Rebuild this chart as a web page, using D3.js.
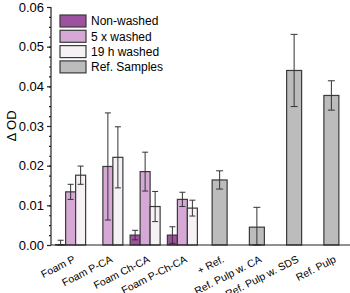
<!DOCTYPE html>
<html>
<head>
<meta charset="utf-8">
<script src="https://cdn.jsdelivr.net/npm/d3@7"></script>
<style>
  body { margin: 0; background: #fff; }
  text { font-family: "Liberation Sans", Arial, sans-serif; fill: #000; }
</style>
</head>
<body>
<svg id="chart" width="350" height="293"></svg>
<script>
// categories along the x axis
categories = ["Foam P", "Foam P-CA", "Foam Ch-CA", "Foam P-Ch-CA",
  "+ Ref.", "Ref. Pulp w. CA", "Ref. Pulp w. SDS", "Ref. Pulp"]
foamCats = categories.slice(0, 4)
refCats = categories.slice(4)

// foam samples (null = no bar)
nonWashed = [0.0001, null, 0.0025, 0.0025]
nonWashedErr = [0.0011, null, 0.0012, 0.0021]
washed5 = [0.0134, 0.0198, 0.0185, 0.0115]
washed5Err = [0.0019, 0.0135, 0.0049, 0.0018]
washed19 = [0.0176, 0.0221, 0.0097, 0.0093]
washed19Err = [0.0023, 0.0077, 0.0038, 0.0020]

// reference samples
refVals = [0.0164, 0.0045, 0.0440, 0.0377]
refErr = [0.0023, 0.0050, 0.0091, 0.0037]

yTicks = [0, 0.01, 0.02, 0.03, 0.04, 0.05, 0.06]
legendLabels = ["Non-washed", "5 x washed", "19 h washed", "Ref. Samples"]
colors = ["#9d529f", "#d5a8d5", "#f6f1f5", "#bcbcbc"]
edge = "#3a3a3a"

const svg = d3.select("#chart")
const margin = {top: 7, right: 0, bottom: 48, left: 51}
const width = +svg.attr("width")
const height = +svg.attr("height")

x = d3.scaleBand()
  .domain(categories)
  .range([margin.left + 1, width - margin.right])

y = d3.scaleLinear()
  .domain([0, 0.06])
  .range([height - margin.bottom, margin.top])

barW = 10
refW = 15

function drawSeries(vals, errs, offset, color, w, cats) {
  const rows = cats.map((c, i) => ({cat: c, v: vals[i], e: errs[i]}))
    .filter(d => d.v != null)
  const cx = d => x(d.cat) + x.bandwidth() / 2 + offset
  svg.append("g").selectAll("rect")
    .data(rows).enter().append("rect")
    .attr("x", d => cx(d) - w / 2)
    .attr("width", w)
    .attr("y", d => y(d.v))
    .attr("height", d => y(0) - y(d.v))
    .attr("fill", color)
    .attr("stroke", edge)
    .attr("stroke-width", 1.2)
  const eb = svg.append("g").attr("stroke", "#333").attr("stroke-width", 1)
  const cap = w > 12 ? 3.5 : 3
  rows.forEach(d => {
    const top = y(d.v + d.e)
    const bot = y(Math.max(0, d.v - d.e))
    eb.append("line").attr("x1", cx(d)).attr("x2", cx(d)).attr("y1", top).attr("y2", bot)
    eb.append("line").attr("x1", cx(d) - cap).attr("x2", cx(d) + cap).attr("y1", top).attr("y2", top)
    eb.append("line").attr("x1", cx(d) - cap).attr("x2", cx(d) + cap).attr("y1", bot).attr("y2", bot)
  })
}

drawSeries(nonWashed, nonWashedErr, -barW, colors[0], barW, foamCats)
drawSeries(washed5, washed5Err, 0, colors[1], barW, foamCats)
drawSeries(washed19, washed19Err, barW, colors[2], barW, foamCats)
drawSeries(refVals, refErr, 0, colors[3], refW, refCats)

// y axis with minor ticks
const yAxis = svg.append("g")
  .attr("transform", `translate(${margin.left}, 0)`)
yAxis.call(d3.axisLeft(y).tickValues(d3.range(0, 0.0601, 0.0025)).tickSize(2).tickFormat(""))
yAxis.call(g => g.select(".domain").remove())
const yMajor = svg.append("g")
  .attr("transform", `translate(${margin.left}, 0)`)
  .call(d3.axisLeft(y).tickValues(yTicks).tickSize(4).tickPadding(3).tickFormat(d3.format(".2f")))
yMajor.selectAll("text").style("font-size", "13px")
svg.selectAll(".tick line").attr("stroke", "#222").attr("stroke-width", 1.2)
yMajor.select(".domain").attr("stroke", "#222").attr("stroke-width", 1.2)
  .attr("d", `M0,${y(0)}V${y(0.06)}`)

// x axis baseline and rotated labels
svg.append("line")
  .attr("x1", margin.left).attr("x2", width)
  .attr("y1", y(0)).attr("y2", y(0))
  .attr("stroke", "#222").attr("stroke-width", 1.2)
svg.append("g").selectAll("text")
  .data(categories).enter().append("text")
  .attr("transform", d => `translate(${x(d) + x.bandwidth() / 2 + 2}, ${y(0) + 10}) rotate(-27)`)
  .attr("text-anchor", "end")
  .attr("dy", "0.7em")
  .style("font-size", "10.5px")
  .text(d => d)

// y label
svg.append("text")
  .attr("transform", `translate(16, ${(y(0) + y(0.06)) / 2}) rotate(-90)`)
  .attr("text-anchor", "middle")
  .style("font-size", "13px")
  .text("Δ OD")

// legend
const leg = svg.append("g").attr("transform", "translate(60, 15)")
legendLabels.forEach((t, i) => {
  const row = leg.append("g").attr("transform", `translate(0, ${i * 15.3})`)
  row.append("rect").attr("width", 26).attr("height", 12)
    .attr("fill", colors[i]).attr("stroke", edge).attr("stroke-width", 1.2)
  row.append("text").attr("x", 31).attr("y", 6).attr("dy", "0.35em")
    .style("font-size", "12px").text(t)
})
</script>
</body>
</html>
